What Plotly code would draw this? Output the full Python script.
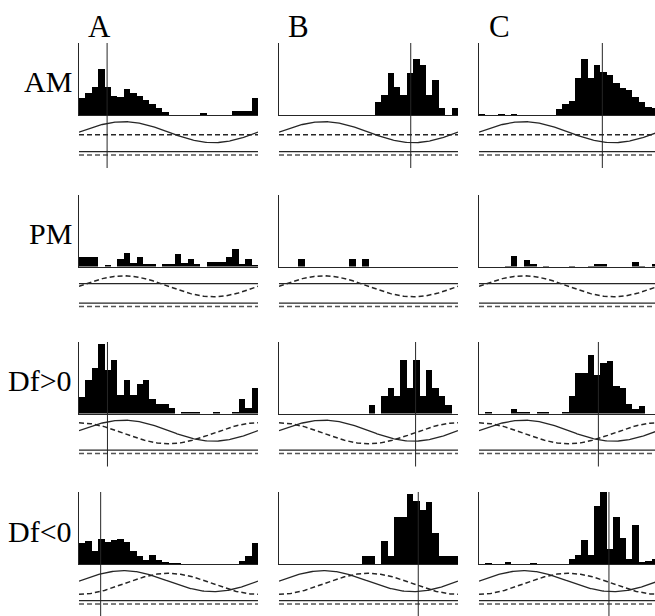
import numpy as np
import plotly.graph_objects as go

W, H = 655, 616
N_BINS = 28

col_labels = ["A", "B", "C"]
row_labels = ["AM", "PM", "Df>0", "Df<0"]

# histogram counts (28 phase bins per panel)
am_a = [50, 65, 85, 138, 85, 58, 53, 78, 65, 58, 45, 32, 20, 10, 0, 0, 0, 0, 0, 6, 0, 0, 0, 0, 13, 13, 13, 52]
am_b = [0, 0, 0, 0, 0, 0, 0, 0, 0, 0, 0, 0, 0, 0, 0, 40, 60, 125, 83, 60, 125, 168, 148, 60, 105, 22, 0, 22]
am_c = [3, 0, 0, 2, 0, 3, 0, 0, 0, 0, 0, 0, 18, 33, 43, 110, 168, 110, 150, 128, 118, 96, 80, 76, 53, 40, 23, 22]

pm_a = [30, 30, 30, 0, 4, 0, 24, 42, 12, 30, 9, 9, 0, 9, 9, 37, 12, 22, 7, 0, 15, 15, 15, 29, 52, 9, 22, 4]
pm_b = [0, 0, 0, 23, 0, 0, 0, 0, 0, 0, 0, 23, 0, 23, 0, 0, 0, 0, 0, 0, 0, 0, 0, 0, 0, 0, 0, 0]
pm_c = [0, 0, 0, 0, 3, 32, 0, 20, 8, 0, 3, 0, 0, 0, 3, 0, 0, 3, 7, 7, 0, 0, 0, 0, 13, 3, 0, 7]

dfp_a = [50, 100, 137, 208, 130, 162, 55, 102, 55, 88, 102, 43, 30, 30, 18, 0, 5, 5, 5, 0, 0, 5, 0, 0, 5, 43, 17, 77]
dfp_b = [0, 0, 0, 0, 0, 0, 0, 0, 0, 0, 0, 0, 0, 0, 27, 0, 52, 78, 52, 160, 78, 160, 52, 132, 78, 52, 27, 0]
dfp_c = [0, 5, 0, 0, 0, 13, 5, 5, 0, 5, 5, 0, 0, 5, 53, 122, 122, 175, 115, 153, 157, 82, 77, 30, 13, 23, 0, 0]

dfn_a = [63, 70, 40, 76, 66, 73, 76, 66, 38, 25, 13, 28, 13, 6, 4, 4, 0, 0, 0, 0, 0, 0, 0, 0, 0, 8, 23, 63]
dfn_b = [0, 0, 0, 0, 0, 0, 0, 0, 0, 0, 0, 0, 0, 24, 24, 0, 69, 24, 139, 139, 209, 187, 162, 184, 92, 24, 24, 24]
dfn_c = [0, 4, 0, 0, 7, 0, 0, 0, 4, 0, 0, 0, 0, 0, 14, 27, 72, 27, 172, 214, 44, 139, 77, 14, 115, 7, 10, 15]

counts = [
    [am_a, am_b, am_c],
    [pm_a, pm_b, pm_c],
    [dfp_a, dfp_b, dfp_c],
    [dfn_a, dfn_b, dfn_c],
]

# preferred-phase markers (fraction of cycle); None = no marker
markers = [
    [0.157, 0.736, 0.689],
    [None, None, None],
    [0.159, 0.763, 0.667],
    [0.121, 0.778, 0.726],
]

# modulation schematics: amplitude and phase shift (deg) of solid / dashed curves
solid_amp = [1.0, 0.0, 1.0, 1.0]
dashed_amp = [0.0, 1.0, 1.0, 1.0]
dashed_shift = [0, 0, 90, -90]
solid_level = 0.05
dashed_level = -0.2
ref_solid_level = -1.8
ref_dashed_level = -2.12

# ---- layout geometry (pixels) ----
col_left = [79, 279, 479]
panel_w = 179
row_top = [43, 195, 342, 492]
row_base = [115, 266.5, 413.5, 564]
LINE = "#262626"
FONT = "Liberation Serif, Times New Roman, serif"

fig = go.Figure()
layout = dict(
    width=W, height=H, margin=dict(l=0, r=0, t=0, b=0),
    paper_bgcolor="white", plot_bgcolor="rgba(0,0,0,0)",
    showlegend=False, bargap=0, shapes=[], annotations=[],
)

centers = (np.arange(N_BINS) + 0.5) / N_BINS
xs = np.linspace(0, 1, 200)

def ax_common():
    return dict(showgrid=False, zeroline=False, ticks="", showticklabels=False)

for r in range(4):
    for c in range(3):
        i = r * 3 + c + 1
        j = 12 + i
        left = col_left[c]
        right = min(W, left + panel_w)
        xdom = [left / W, right / W]
        xr = [0, (right - left) / panel_w]
        top, base = row_top[r], row_base[r]

        # histogram subplot
        layout[f"xaxis{i}"] = dict(domain=xdom, range=xr, anchor=f"y{i}",
                                  showline=True, linecolor=LINE, linewidth=1, **ax_common())
        layout[f"yaxis{i}"] = dict(domain=[1 - base / H, 1 - top / H], range=[0, 215], anchor=f"x{i}",
                                  showline=True, linecolor=LINE, linewidth=1, **ax_common())
        fig.add_trace(go.Bar(x=centers, y=counts[r][c], width=1 / N_BINS,
                             marker=dict(color="black", line=dict(width=0)),
                             xaxis=f"x{i}", yaxis=f"y{i}"))

        # modulation strip subplot
        layout[f"xaxis{j}"] = dict(domain=xdom, range=xr, anchor=f"y{j}", showline=False, **ax_common())
        layout[f"yaxis{j}"] = dict(domain=[1 - (base + 45) / H, 1 - (base + 3) / H], range=[-2.6, 1.4],
                                  anchor=f"x{j}", showline=False, **ax_common())
        solid = solid_level + solid_amp[r] * np.sin(2 * np.pi * xs)
        dashed = dashed_level + dashed_amp[r] * np.sin(2 * np.pi * xs + np.deg2rad(dashed_shift[r]))
        fig.add_trace(go.Scatter(x=xs, y=solid, mode="lines", line=dict(color=LINE, width=1.3),
                                 xaxis=f"x{j}", yaxis=f"y{j}"))
        fig.add_trace(go.Scatter(x=xs, y=dashed, mode="lines", line=dict(color=LINE, width=1.5, dash="5px,3px"),
                                 xaxis=f"x{j}", yaxis=f"y{j}"))
        fig.add_trace(go.Scatter(x=[0, 1], y=[ref_solid_level] * 2, mode="lines",
                                 line=dict(color=LINE, width=1.2), xaxis=f"x{j}", yaxis=f"y{j}"))
        fig.add_trace(go.Scatter(x=[0, 1], y=[ref_dashed_level] * 2, mode="lines",
                                 line=dict(color="#555", width=1.5, dash="5px,3px"), xaxis=f"x{j}", yaxis=f"y{j}"))

        m = markers[r][c]
        if m is not None:
            layout["shapes"].append(dict(type="line", xref=f"x{i}", yref="paper", x0=m, x1=m,
                                         y0=max(0, 1 - (base + 53) / H), y1=1 - top / H,
                                         line=dict(color=LINE, width=1)))

# column letters
col_label_x = [99, 298, 499]
for c, lab in enumerate(col_labels):
    layout["annotations"].append(dict(text=lab, x=col_label_x[c] / W, y=1 - 27 / H, xref="paper", yref="paper",
                                      xanchor="center", yanchor="middle", showarrow=False,
                                      font=dict(family=FONT, size=31, color="black")))
# row labels
for r, lab in enumerate(row_labels):
    layout["annotations"].append(dict(text=lab, x=74 / W, y=1 - (row_base[r] - 33) / H, xref="paper", yref="paper",
                                      xanchor="right", yanchor="middle", showarrow=False,
                                      font=dict(family=FONT, size=30, color="black")))

fig.update_layout(**layout)
fig.write_html("out.html", config={"displayModeBar": False, "staticPlot": True},
               post_script="document.body.style.margin='0';document.body.style.overflow='hidden';")
